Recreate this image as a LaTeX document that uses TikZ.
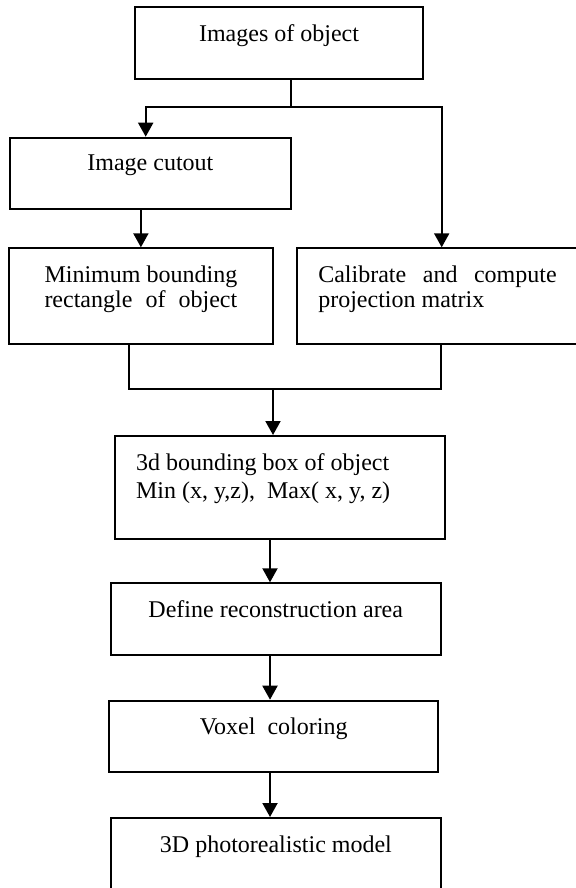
\documentclass[tikz,border=0pt]{standalone}
\usepackage{fontspec}
\setmainfont{Liberation Serif}
\usetikzlibrary{arrows.meta, calc, positioning}
\tikzset{stage/.style={
    draw, rectangle, inner sep=0pt
    },
    stagetext/.style={
    anchor=north, inner sep=0pt, outer sep=0pt, yshift=-9.25pt, align=center
    }
}

\begin{document}
\begin{tikzpicture}[x=0.5pt, y=-0.5pt, line width=1pt, >={Triangle[width=7.5pt,length=7pt]}, font=\fontsize{12}{12.5}\selectfont]
        \useasboundingbox (0,0) rectangle (575,888);

        \node[stage, minimum width=144pt, minimum height=36.3pt, label={[stagetext]north:Images of object}] (img) at (279,43) {};
        \node[stage, minimum width=140.45pt, minimum height=35.8pt, label={[stagetext]north:Image cutout}] (cut) at (150.35,173.5) {};

        \node[stage, minimum width=132.4pt, minimum height=48pt, label={[stagetext]north:{\makebox[96.4pt][s]{Minimum bounding}\\\makebox[96.4pt][s]{rectangle of object}}}] (mbr) at (140.9,296.3) {};
        \node[stage, minimum width=142.65pt, minimum height=48pt, label={[stagetext, anchor=north west, xshift=11.3pt, align=left]north west:{\makebox[119.2pt][s]{Calibrate and compute}\\projection matrix}}] (calib) at (439.35,296.3) {};

        \node[stage, minimum width=165pt, minimum height=51.25pt, label={[stagetext, anchor=north west, xshift=11pt, align=left, font=\fontsize{12}{14}\selectfont]north west:{3d bounding box of object\\Min (x, y,z),~ Max( x, y, z)}}] (bbox) at (280,487.25) {};
        \node[stage, minimum width=165.05pt, minimum height=35.85pt, label={[stagetext]north:Define reconstruction area}] (area) at (275.75,619.15) {};
        \node[stage, minimum width=164.45pt, minimum height=35.65pt, label={[stagetext]north:Voxel~ coloring}] (voxel) at (273.75,736.35) {};
        \node[stage, minimum width=164.9pt, minimum height=36pt, label={[stagetext]north:3D photorealistic model}] (model) at (275.9,854) {};

        \coordinate (split) at (291,107.5);
        \coordinate (lsplit) at (145.7,107.5);
        \coordinate (rsplit) at (441.7,107.5);
        \draw (img.south -| split) -- (split);
        \draw[->] (split) -- (lsplit) -- (lsplit |- cut.north);
        \draw[->] (split) -- (rsplit) -- (rsplit |- calib.north);
        \draw[->] (cut.south -| mbr.north) -- (mbr.north);

        \coordinate (lmerge) at (129,389.3);
        \coordinate (rmerge) at (441,389.3);
        \coordinate (merge) at (273,389.3);
        \draw (lmerge |- mbr.south) -- (lmerge) -- (rmerge) -- (rmerge |- calib.south);
        \draw[->] (merge) -- (merge |- bbox.north);

        \coordinate (spine) at (270,0);
        \draw[->] (bbox.south -| spine) -- (spine |- area.north);
        \draw[->] (area.south -| spine) -- (spine |- voxel.north);
        \draw[->] (voxel.south -| spine) -- (spine |- model.north);
    \end{tikzpicture}
\end{document}
